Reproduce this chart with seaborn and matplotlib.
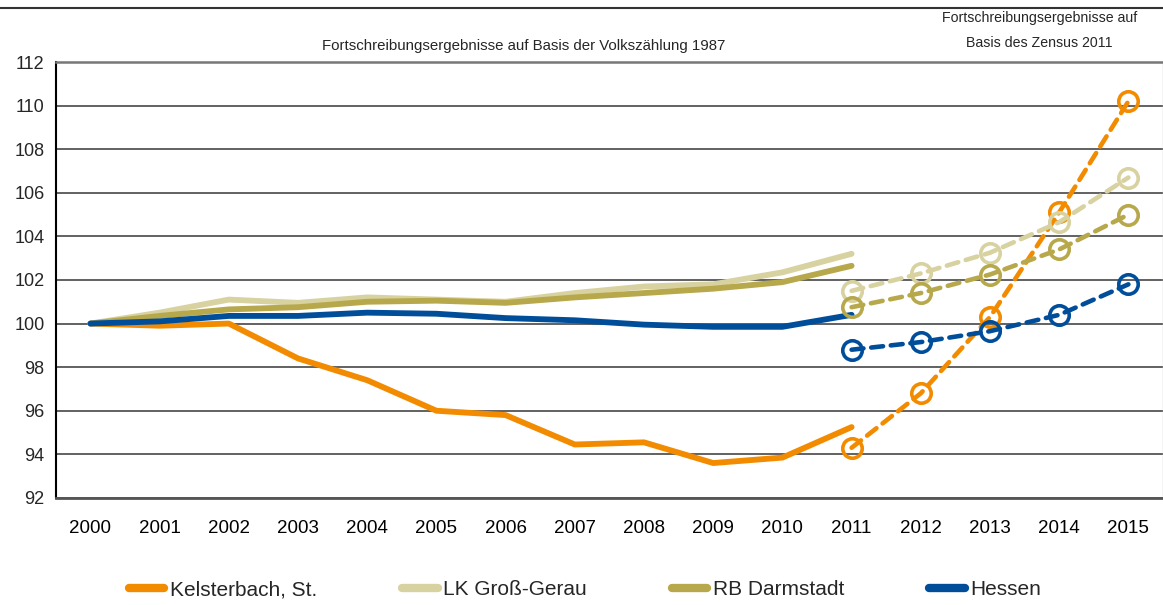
import numpy as np
import pandas as pd
import matplotlib
matplotlib.use("Agg")
import matplotlib.pyplot as plt
from matplotlib.lines import Line2D
from matplotlib.ticker import FixedLocator
import seaborn as sns

# ---------------- data ----------------
series_names = ["Kelsterbach, St.", "LK Groß-Gerau", "RB Darmstadt", "Hessen"]
series_colors = ["#F28B00", "#D8D2A0", "#B8A84C", "#004E9A"]

years_old = [2000, 2001, 2002, 2003, 2004, 2005, 2006, 2007, 2008, 2009, 2010, 2011]
years_new = [2011, 2012, 2013, 2014, 2015]

kelsterbach_old = [100.0, 99.9, 100.0, 98.4, 97.4, 96.0, 95.8, 94.45, 94.55, 93.6, 93.85, 95.25]
grossgerau_old = [100.0, 100.5, 101.1, 100.95, 101.2, 101.1, 101.0, 101.4, 101.7, 101.8, 102.35, 103.2]
darmstadt_old = [100.0, 100.35, 100.65, 100.75, 101.0, 101.05, 100.95, 101.2, 101.4, 101.6, 101.9, 102.65]
hessen_old = [100.0, 100.1, 100.35, 100.35, 100.5, 100.45, 100.25, 100.15, 99.95, 99.85, 99.85, 100.4]

kelsterbach_new = [94.3, 96.8, 100.3, 105.1, 110.2]
grossgerau_new = [101.5, 102.3, 103.25, 104.65, 106.7]
darmstadt_new = [100.75, 101.4, 102.25, 103.4, 105.0]
hessen_new = [98.8, 99.15, 99.65, 100.4, 101.8]

y_ticks = [92, 94, 96, 98, 100, 102, 104, 106, 108, 110, 112]
x_years = list(range(2000, 2016))

title_left = "Fortschreibungsergebnisse auf Basis der Volkszählung 1987"
title_right = "Fortschreibungsergebnisse auf\nBasis des Zensus 2011"

# ---------------- frames ----------------
def long_df(years, arrays):
    rows = []
    for name, vals in zip(series_names, arrays):
        for y, v in zip(years, vals):
            rows.append({"series": name, "year": y, "value": v})
    return pd.DataFrame(rows)

df_old = long_df(years_old, [kelsterbach_old, grossgerau_old, darmstadt_old, hessen_old])
df_new = long_df(years_new, [kelsterbach_new, grossgerau_new, darmstadt_new, hessen_new])
palette = dict(zip(series_names, series_colors))

# ---------------- style ----------------
sns.set_style("white")
plt.rcParams["font.family"] = ["Liberation Sans", "DejaVu Sans"]

fig = plt.figure(figsize=(11.63, 6.05), dpi=100)
ax = fig.add_axes([0.048, 0.177, 0.952, 0.7205])

sns.lineplot(data=df_old, x="year", y="value", hue="series", hue_order=series_names,
             palette=palette, linewidth=4.2, legend=False, errorbar=None, ax=ax,
             solid_capstyle="round", solid_joinstyle="round")
n_old = len(ax.lines)
sns.lineplot(data=df_new, x="year", y="value", hue="series", hue_order=series_names,
             palette=palette, linewidth=3.3, legend=False, errorbar=None, ax=ax,
             marker="o", markersize=14, markerfacecolor="none", markeredgewidth=2.6)
for ln in ax.lines[n_old:]:
    ln.set_linestyle((0, (2.6, 1.7)))
    ln.set_dash_capstyle("round")
    ln.set_markeredgecolor(ln.get_color())

# ---------------- axes ----------------
ax.set_xlim(1999.5, 2015.5)
ax.set_ylim(92, 112)
ax.set_yticks(y_ticks)
ax.set_yticklabels([str(v) for v in y_ticks], fontsize=13)
ax.set_xticks(x_years)
ax.set_xticklabels([str(v) for v in x_years], fontsize=13.5)
ax.xaxis.set_minor_locator(FixedLocator(np.arange(1999.5, 2016.0, 1.0)))
ax.tick_params(axis="x", which="major", length=0, pad=16, colors="black")
ax.tick_params(axis="x", which="minor", length=8, width=1.0, color="#555555", direction="out")
ax.tick_params(axis="y", which="major", length=5, width=1.0, color="#333333", direction="out", pad=3)
ax.set_xlabel("")
ax.set_ylabel("")

ax.yaxis.grid(True, color="#555555", linewidth=1.3)
ax.xaxis.grid(False)
ax.set_axisbelow(True)

ax.spines["left"].set_color("black")
ax.spines["left"].set_linewidth(1.5)
ax.spines["bottom"].set_color("#555555")
ax.spines["bottom"].set_linewidth(2.0)
ax.spines["top"].set_color("#777777")
ax.spines["top"].set_linewidth(1.8)
ax.spines["right"].set_color("#cccccc")
ax.spines["right"].set_linewidth(1.0)

# ---------------- titles ----------------
fig.text(0.45, 0.924, title_left, ha="center", va="center", fontsize=10.8)
fig.text(0.894, 0.949, title_right, ha="center", va="center", fontsize=10.2, linespacing=2.0)
fig.add_artist(Line2D([0, 1], [0.987, 0.987], transform=fig.transFigure,
                      color="#333333", linewidth=1.5))

# ---------------- legend ----------------
handles = [Line2D([0], [0], color=c, linewidth=6, solid_capstyle="round") for c in series_colors]
fig.legend(handles, series_names, loc="center", bbox_to_anchor=(0.503, 0.025), ncol=4,
           frameon=False, fontsize=15, handlelength=1.7, handletextpad=0.25,
           columnspacing=4.1)

fig.savefig("out.png", dpi=100)
